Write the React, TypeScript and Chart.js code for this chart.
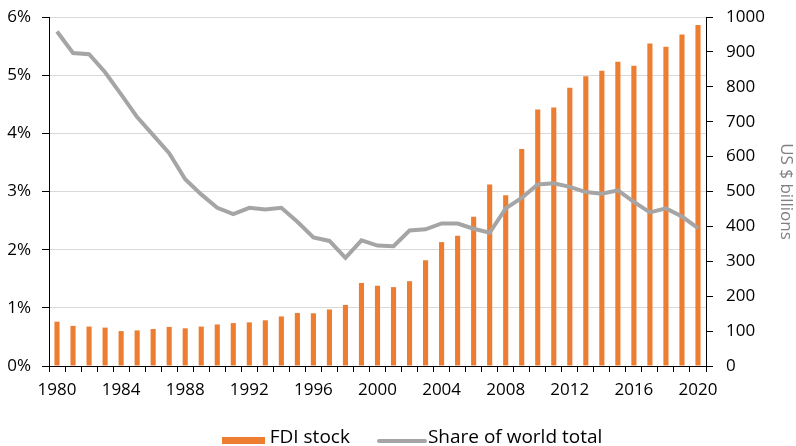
import React, { useEffect, useRef } from "react";
import { Chart, registerables } from "chart.js";

Chart.register(...registerables);

const years: string[] = [];
for (let y = 1980; y <= 2020; y++) years.push(String(y));

const fdiStock = [
  127, 115, 113, 110, 100, 102, 106, 112, 108, 113,
  119, 123, 125, 131, 142, 152, 151, 162, 175, 238,
  230, 226, 243, 303, 355, 373, 428, 520, 489, 622,
  735, 741, 797, 830, 846, 872, 860, 924, 915, 950,
  977,
];

const worldShare = [
  5.75, 5.38, 5.36, 5.05, 4.67, 4.28, 3.97, 3.66, 3.21, 2.95,
  2.72, 2.61, 2.72, 2.69, 2.72, 2.48, 2.21, 2.15, 1.86, 2.16,
  2.07, 2.06, 2.33, 2.35, 2.45, 2.45, 2.36, 2.29, 2.71, 2.89,
  3.12, 3.14, 3.08, 2.99, 2.96, 3.02, 2.82, 2.64, 2.71, 2.57,
  2.37,
];

const BAR_LABEL = "FDI stock";
const LINE_LABEL = "Share of world total";
const BAR_COLOR = "#ED7D31";
const LINE_COLOR = "#A5A5A5";
const FONT = "'Open Sans', sans-serif";

export default function App() {
  const ref = useRef<HTMLCanvasElement | null>(null);

  useEffect(() => {
    document.body.style.margin = "0";
    const canvas = ref.current;
    if (!canvas) return;
    const chart = new Chart(canvas, {
      type: "bar",
      data: {
        labels: years,
        datasets: [
          {
            type: "bar",
            label: BAR_LABEL,
            data: fdiStock,
            backgroundColor: BAR_COLOR,
            borderWidth: 0,
            yAxisID: "y1",
            barPercentage: 0.32,
            categoryPercentage: 1,
            order: 1,
          } as any,
          {
            type: "line",
            label: LINE_LABEL,
            data: worldShare,
            borderColor: LINE_COLOR,
            backgroundColor: LINE_COLOR,
            borderWidth: 4,
            pointRadius: 0,
            tension: 0,
            yAxisID: "y",
            order: 0,
          } as any,
        ],
      },
      options: {
        responsive: false,
        animation: false,
        layout: { padding: { top: 17, left: 0, right: 0, bottom: 40 } },
        plugins: {
          tooltip: { enabled: false },
          legend: { display: false },
        },
        scales: {
          x: {
            offset: true,
            grid: {
              display: true,
              drawOnChartArea: false,
              offset: true,
              tickLength: 6,
              tickColor: "#000",
            },
            border: { color: "#000", width: 1 },
            ticks: {
              autoSkip: false,
              maxRotation: 0,
              minRotation: 0,
              color: "#000",
              font: { family: FONT, size: 17 },
              padding: 8,
              callback: function (this: any, _v: any, i: number) {
                const y = Number(years[i]);
                return (y - 1980) % 4 === 0 ? years[i] : "";
              },
            },
            afterFit: (s: any) => {
              s.height = 40;
              s.paddingLeft = 0;
              s.paddingRight = 0;
            },
          },
          y: {
            position: "left",
            min: 0,
            max: 6,
            grid: {
              color: "#D9D9D9",
              lineWidth: 1,
              tickColor: "#000",
              tickLength: 7,
            },
            border: { color: "#000", width: 1 },
            ticks: {
              stepSize: 1,
              color: "#000",
              font: { family: FONT, size: 17 },
              padding: 11,
              callback: (v: any) => v + "%",
            },
            afterFit: (s: any) => {
              s.width = 49;
              s.paddingTop = 0;
              s.paddingBottom = 0;
            },
          },
          y1: {
            position: "right",
            min: 0,
            max: 1000,
            grid: {
              drawOnChartArea: false,
              tickColor: "#000",
              tickLength: 7,
            },
            border: { color: "#000", width: 1 },
            ticks: {
              stepSize: 100,
              color: "#000",
              font: { family: FONT, size: 17 },
              padding: 13,
              callback: (v: any) => String(v),
            },
            title: {
              display: true,
              text: "US $ billions",
              color: "#808080",
              font: { family: FONT, size: 17 },
              padding: { top: 0, bottom: 0 },
            },
            afterFit: (s: any) => {
              s.width = 90;
              s.paddingTop = 0;
              s.paddingBottom = 0;
            },
          },
        },
      },
    });
    return () => chart.destroy();
  }, []);

  const textStyle: React.CSSProperties = {
    fontFamily: FONT,
    fontSize: 19,
    lineHeight: "20px",
    color: "#000",
    whiteSpace: "nowrap",
  };

  return (
    <div style={{ position: "relative", width: 796, height: 446, overflow: "hidden" }}>
      <canvas ref={ref} width={796} height={446} style={{ display: "block" }} />
      <div
        style={{
          position: "absolute",
          left: 0,
          top: 426,
          width: 796,
          height: 20,
          paddingLeft: 28,
          boxSizing: "border-box",
          display: "flex",
          justifyContent: "center",
          alignItems: "center",
        }}
      >
        <span style={{ display: "inline-block", width: 43, height: 7, background: BAR_COLOR, position: "relative", top: 4 }} />
        <span style={{ ...textStyle, marginLeft: 5 }}>{BAR_LABEL}</span>
        <span
          style={{
            display: "inline-block",
            width: 50,
            height: 4,
            borderRadius: 2,
            background: LINE_COLOR,
            marginLeft: 27,
            position: "relative",
            top: 5,
          }}
        />
        <span style={{ ...textStyle, marginLeft: 1 }}>{LINE_LABEL}</span>
      </div>
    </div>
  );
}
